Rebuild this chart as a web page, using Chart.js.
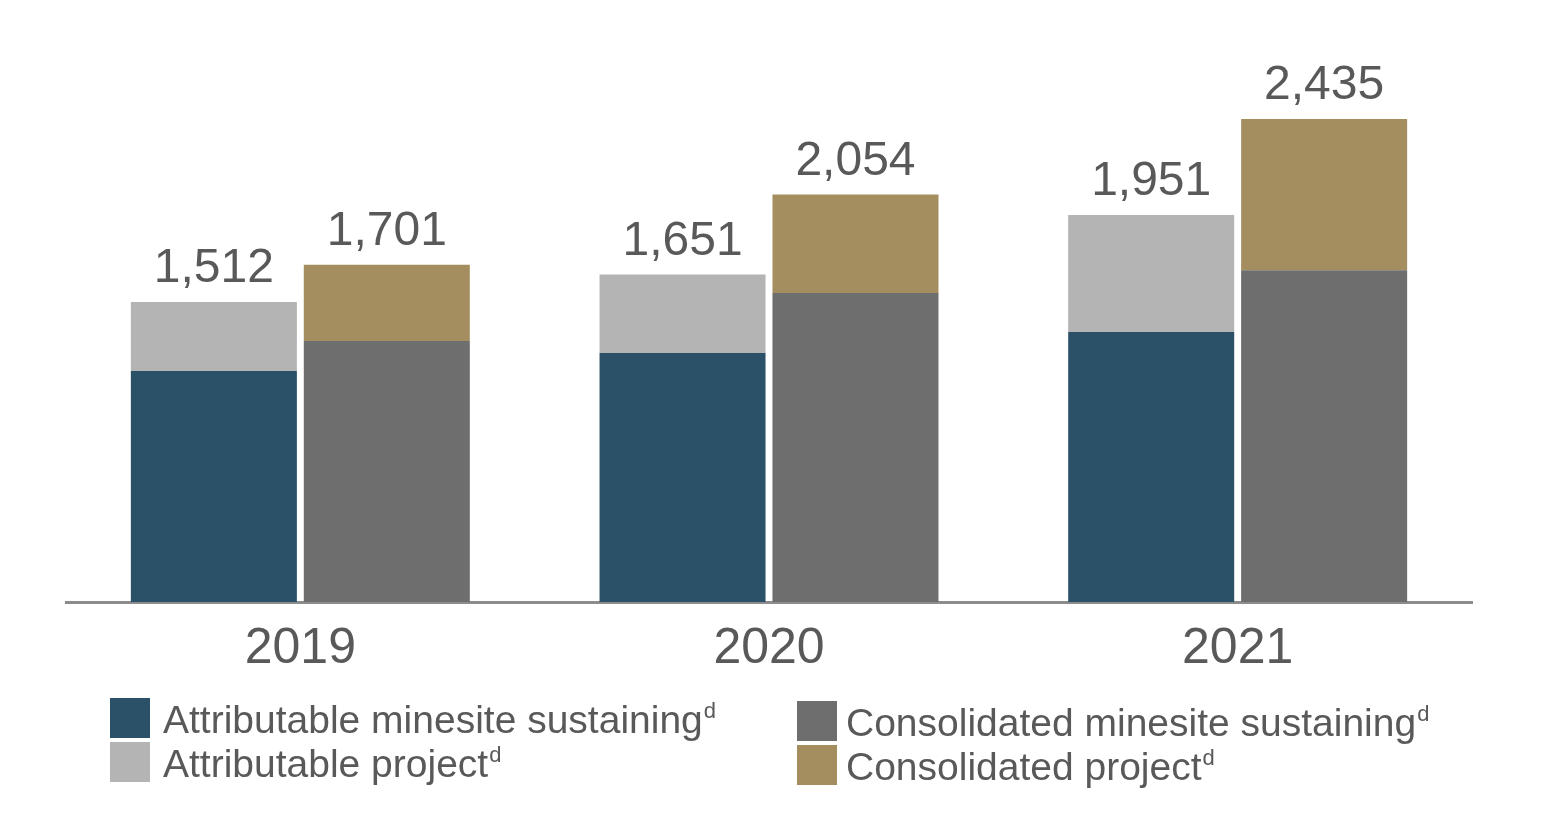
<!DOCTYPE html>
<html>
<head>
<meta charset="utf-8">
<script src="https://cdn.jsdelivr.net/npm/chart.js@4.4.0/dist/chart.umd.min.js"></script>
<style>
  html, body { margin: 0; padding: 0; background: #ffffff; }
  #wrap { width: 1545px; height: 818px; position: relative; }
</style>
</head>
<body>
<div id="wrap"><canvas id="c" width="1545" height="818"></canvas></div>
<script>
// ---- data ----
const categories = ['2019', '2020', '2021'];
const attributableSustaining = [1165, 1255, 1361];
const attributableProject   = [347, 396, 590];
const consolidatedSustaining = [1316, 1558, 1673];
const consolidatedProject    = [385, 496, 762];
const attributableTotals = ['1,512', '1,651', '1,951'];
const consolidatedTotals = ['1,701', '2,054', '2,435'];
const seriesNames = ['Attributable minesite sustaining', 'Attributable project', 'Consolidated minesite sustaining', 'Consolidated project'];

const COLORS = ['#2b5169', '#b4b4b4', '#6e6e6e', '#a48e5f'];
const TEXT = '#595959';
const FONT = '"Liberation Sans", Arial, sans-serif';

const totalsPlugin = {
  id: 'totals',
  afterDatasetsDraw(chart) {
    const ctx = chart.ctx;
    ctx.save();
    ctx.fillStyle = TEXT;
    ctx.font = '48px ' + FONT;
    ctx.textAlign = 'center';
    ctx.textBaseline = 'alphabetic';
    const pairs = [[1, attributableTotals], [3, consolidatedTotals]];
    pairs.forEach(([di, labels]) => {
      const meta = chart.getDatasetMeta(di);
      meta.data.forEach((bar, i) => {
        ctx.fillText(labels[i], bar.x, bar.y - 20);
      });
    });
    ctx.restore();
  }
};

const legendPlugin = {
  id: 'customLegend',
  afterDraw(chart) {
    const ctx = chart.ctx;
    ctx.save();
    const cols = [{ sx: 110, tx: 163, y0: 698 }, { sx: 797, tx: 846, y0: 701 }];
    const rowGap = 44;
    chart.data.datasets.forEach((ds, i) => {
      const col = cols[Math.floor(i / 2)];
      const row = i % 2;
      const top = col.y0 + row * rowGap;
      ctx.fillStyle = ds.backgroundColor;
      ctx.fillRect(col.sx, top, 40, 40);
      ctx.fillStyle = TEXT;
      ctx.font = '39px ' + FONT;
      ctx.textAlign = 'left';
      ctx.textBaseline = 'alphabetic';
      const base = top + 35;
      ctx.fillText(ds.label, col.tx, base);
      const w = ctx.measureText(ds.label).width;
      ctx.font = '22px ' + FONT;
      ctx.fillText('d', col.tx + w + 1, base - 15);
    });
    ctx.restore();
  }
};

new Chart(document.getElementById('c'), {
  type: 'bar',
  data: {
    labels: categories,
    datasets: [
      { label: seriesNames[0], data: attributableSustaining, backgroundColor: COLORS[0], stack: 'attr' },
      { label: seriesNames[1], data: attributableProject, backgroundColor: COLORS[1], stack: 'attr' },
      { label: seriesNames[2], data: consolidatedSustaining, backgroundColor: COLORS[2], stack: 'cons' },
      { label: seriesNames[3], data: consolidatedProject, backgroundColor: COLORS[3], stack: 'cons' }
    ]
  },
  options: {
    responsive: false,
    animation: false,
    events: [],
    categoryPercentage: 0.738,
    barPercentage: 0.96,
    layout: { padding: { top: 7, left: 66, right: 73, bottom: 0 } },
    plugins: { legend: { display: false }, tooltip: { enabled: false } },
    scales: {
      x: {
        stacked: true,
        grid: { display: false, drawTicks: false },
        border: { display: true, color: '#8c8c8c', width: 3 },
        ticks: { color: TEXT, font: { family: FONT, size: 50 }, padding: 17 },
        afterFit(scale) { scale.height = 216; }
      },
      y: {
        stacked: true,
        display: false,
        min: 0,
        max: 3000
      }
    }
  },
  plugins: [totalsPlugin, legendPlugin]
});
</script>
</body>
</html>
